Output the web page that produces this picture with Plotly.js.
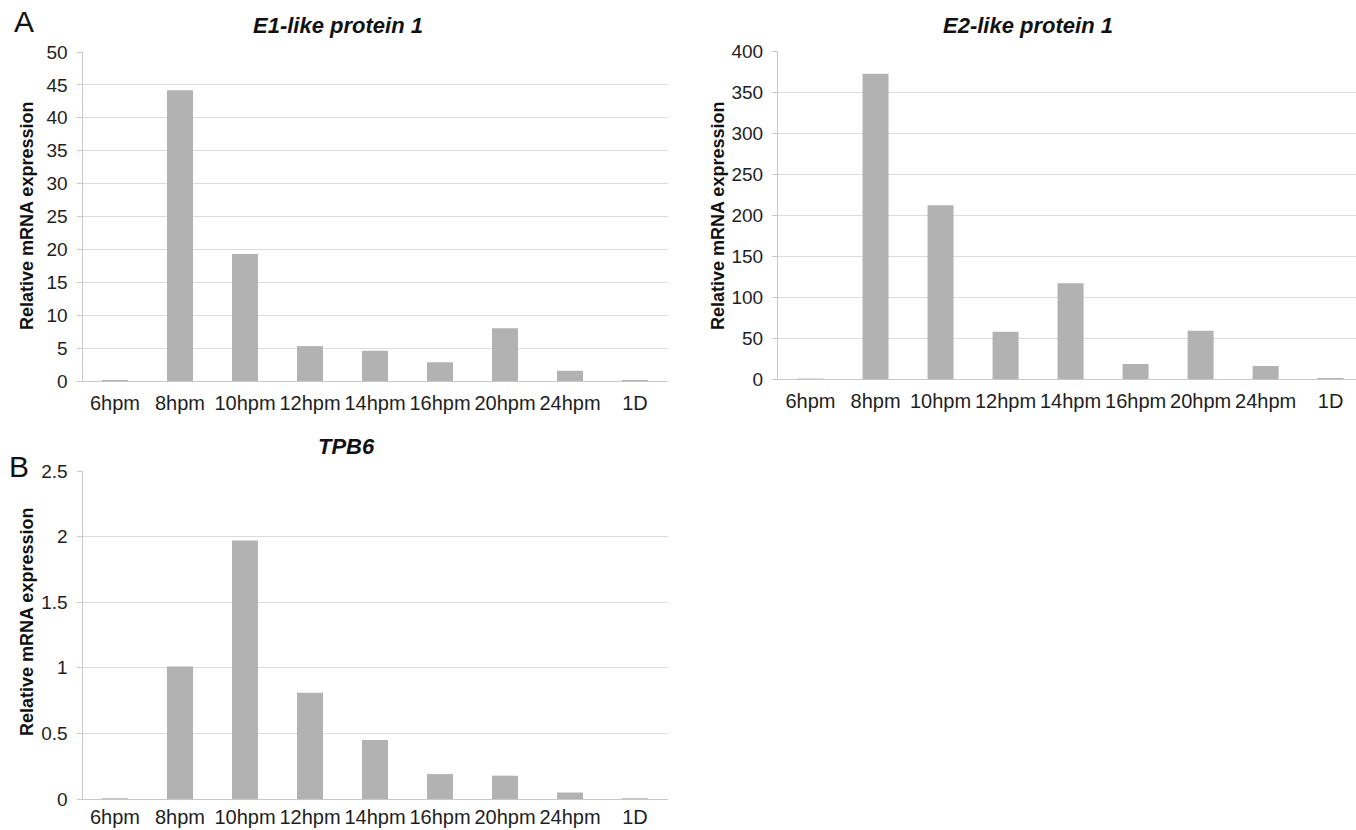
<!DOCTYPE html>
<html>
<head>
<meta charset="utf-8">
<script src="https://cdn.plot.ly/plotly-3.0.1.min.js"></script>
<style>html,body{margin:0;padding:0;background:#fff;}#chart{width:1356px;height:830px;}</style>
</head>
<body>
<div id="chart"></div>
<script>
const categories = ["6hpm","8hpm","10hpm","12hpm","14hpm","16hpm","20hpm","24hpm","1D"];
const e1Values = [0.15, 44.2, 19.3, 5.3, 4.6, 2.85, 8.0, 1.55, 0.15];
const e2Values = [0.5, 372.4, 212, 57.6, 116.8, 18.3, 58.8, 15.8, 1.2];
const tpb6Values = [0.005, 1.01, 1.97, 0.81, 0.45, 0.19, 0.178, 0.05, 0.005];
const titles = ["E1-like protein 1", "E2-like protein 1", "TPB6"];
const yLabel = "Relative mRNA expression";
const panelLetters = ["A", "B"];

const W = 1356, H = 830;
const px = v => v / W;
const py = v => 1 - v / H;
const FONT = "Liberation Sans, Arial, sans-serif";
const barColor = "#b2b2b2";

function bar(y, xa, ya) {
  return {type: "bar", x: categories, y: y, xaxis: xa, yaxis: ya,
    marker: {color: barColor, line: {width: 0}}, hoverinfo: "x+y", showlegend: false};
}
const data = [bar(e1Values, "x", "y"), bar(e2Values, "x2", "y2"), bar(tpb6Values, "x3", "y3")];

function xax(domain, anchor, range, standoff) {
  return {domain: domain, anchor: anchor, type: "category", range: range,
    showgrid: false, showline: true, linecolor: "#c8c8c8", linewidth: 1,
    ticks: "", ticklabelstandoff: standoff, zeroline: false,
    tickfont: {family: FONT, size: 20, color: "#1e1e1e"}, fixedrange: true};
}
function yax(domain, anchor, range, dtick) {
  return {domain: domain, anchor: anchor, range: range, dtick: dtick, tick0: 0,
    showgrid: true, gridcolor: "#dcdcdc", gridwidth: 1,
    showline: true, linecolor: "#c8c8c8", linewidth: 1,
    ticks: "outside", ticklen: 5, tickcolor: "#c8c8c8", ticklabelstandoff: 5,
    zeroline: false,
    tickfont: {family: FONT, size: 19, color: "#1e1e1e"}, fixedrange: true};
}

const xdomL = [px(82.5), px(667.5)];
const layout = {
  width: W, height: H,
  margin: {l: 0, r: 0, t: 0, b: 0},
  paper_bgcolor: "#fff", plot_bgcolor: "#fff",
  bargap: 0.6,
  xaxis: xax(xdomL, "y", [-0.5, 8.5], 4),
  yaxis: yax([py(381), py(52)], "x", [0, 50], 5),
  xaxis2: xax([px(778), 1], "y2", [-0.5, 8.39], 4),
  yaxis2: yax([py(379), py(51)], "x2", [0, 400], 50),
  xaxis3: xax(xdomL, "y3", [-0.5, 8.5], 0),
  yaxis3: yax([py(799), py(471)], "x3", [0, 2.5], 0.5),
  annotations: [
    {text: "<b><i>" + titles[0] + "</i></b>", x: px(338), y: py(26), xref: "paper", yref: "paper",
      xanchor: "center", yanchor: "middle", showarrow: false, font: {family: FONT, size: 22, color: "#111"}},
    {text: "<b><i>" + titles[1] + "</i></b>", x: px(1028), y: py(26), xref: "paper", yref: "paper",
      xanchor: "center", yanchor: "middle", showarrow: false, font: {family: FONT, size: 22, color: "#111"}},
    {text: "<b><i>" + titles[2] + "</i></b>", x: px(346), y: py(446), xref: "paper", yref: "paper",
      xanchor: "center", yanchor: "middle", showarrow: false, font: {family: FONT, size: 22, color: "#111"}},
    {text: "<b>" + yLabel + "</b>", x: px(27), y: py(216), xref: "paper", yref: "paper", textangle: -90,
      xanchor: "center", yanchor: "middle", showarrow: false, font: {family: FONT, size: 18, color: "#111"}},
    {text: "<b>" + yLabel + "</b>", x: px(718), y: py(216), xref: "paper", yref: "paper", textangle: -90,
      xanchor: "center", yanchor: "middle", showarrow: false, font: {family: FONT, size: 18, color: "#111"}},
    {text: "<b>" + yLabel + "</b>", x: px(27), y: py(622), xref: "paper", yref: "paper", textangle: -90,
      xanchor: "center", yanchor: "middle", showarrow: false, font: {family: FONT, size: 18, color: "#111"}},
    {text: panelLetters[0], x: px(24), y: py(21), xref: "paper", yref: "paper",
      xanchor: "center", yanchor: "middle", showarrow: false, font: {family: FONT, size: 30, color: "#111"}},
    {text: panelLetters[1], x: px(19), y: py(466), xref: "paper", yref: "paper",
      xanchor: "center", yanchor: "middle", showarrow: false, font: {family: FONT, size: 30, color: "#111"}}
  ]
};
Plotly.newPlot("chart", data, layout, {displayModeBar: false, staticPlot: true});
</script>
</body>
</html>
